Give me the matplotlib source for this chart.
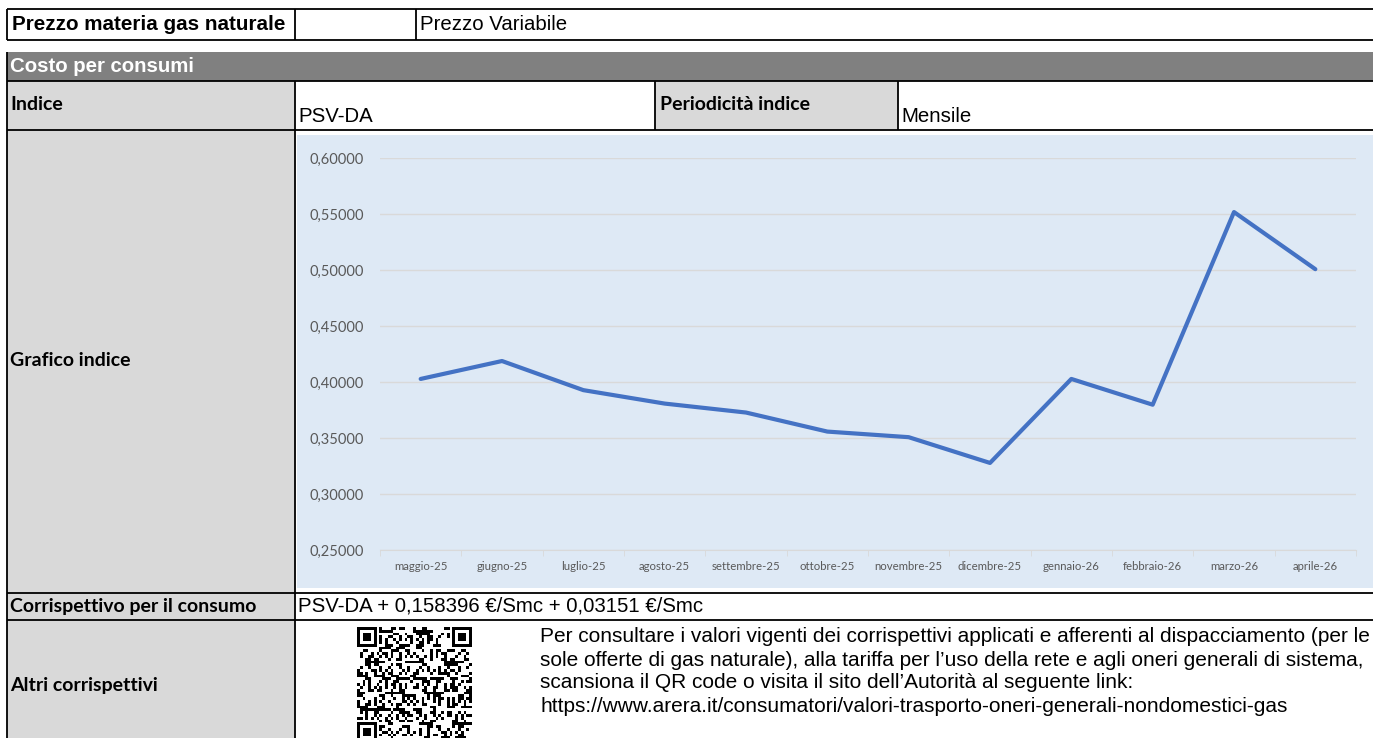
import numpy as np
import matplotlib
matplotlib.use('Agg')
import matplotlib.pyplot as plt
from matplotlib.patches import Rectangle
from matplotlib.ticker import FuncFormatter

plt.rcParams['font.family'] = ['Lato', 'DejaVu Sans']

# index values (PSV-DA), one per month
months = ['maggio-25', 'giugno-25', 'luglio-25', 'agosto-25', 'settembre-25', 'ottobre-25',
          'novembre-25', 'dicembre-25', 'gennaio-26', 'febbraio-26', 'marzo-26', 'aprile-26']
psv_da = [0.403, 0.419, 0.393, 0.381, 0.373, 0.356, 0.351, 0.328, 0.403, 0.380, 0.552, 0.501]
y_ticks = [0.25, 0.30, 0.35, 0.40, 0.45, 0.50, 0.55, 0.60]

info_lines = [
    'Per consultare i valori vigenti dei corrispettivi applicati e afferenti al dispacciamento (per le',
    'sole offerte di gas naturale), alla tariffa per l\u2019uso della rete e agli oneri generali di sistema,',
    'scansiona il QR code o visita il sito dell\u2019Autorit\u00e0 al seguente link:',
    'https://www.arera.it/consumatori/valori-trasporto-oneri-generali-nondomestici-gas',
]

ARIAL = ['Liberation Sans', 'DejaVu Sans']
CALIBRI = ['Lato', 'DejaVu Sans']
GRAY = '#D9D9D9'

W, H = 1373, 738
fig = plt.figure(figsize=(W / 100, H / 100), dpi=100)

# full-figure axes in pixel coordinates for the table around the chart
bg = fig.add_axes([0, 0, 1, 1])
bg.axis('off')


def box(x0, y0, x1, y1, color):
    bg.add_patch(Rectangle((x0, y0), x1 - x0, y1 - y0, facecolor=color, edgecolor='none'))


def hline(y, x0=7, x1=W):
    bg.plot([x0, x1], [y, y], color='black', lw=1.3, solid_capstyle='butt')


def vline(x, y0, y1):
    bg.plot([x, x], [y0, y1], color='black', lw=1.3, solid_capstyle='butt')


def label(x, y, s, family, size, bold=False, color='black'):
    bg.text(x, y, s, family=family, fontsize=size, fontweight='bold' if bold else 'normal',
            color=color, ha='left', va='center')


# row 1
hline(9); hline(39.5)
vline(7, 9, 39.5); vline(295, 9, 39.5); vline(416, 9, 39.5)
label(12, 25, 'Prezzo materia gas naturale', ARIAL, 14.9, bold=True)
label(420, 25, 'Prezzo Variabile', ARIAL, 14.7)

# header band
box(7, 52, W, 81, '#808080')
label(10, 67, 'Costo per consumi', ARIAL, 14.7, bold=True, color='white')

# row "Indice"
box(7, 81, 295, 129.5, GRAY)
box(655, 81, 898, 129.5, GRAY)
label(10, 104, 'Indice', CALIBRI, 14, bold=True)
label(298, 116, 'PSV-DA', ARIAL, 14.7)
label(660, 104, 'Periodicit\u00e0 indice', CALIBRI, 14, bold=True)
label(901, 116, 'Mensile', ARIAL, 14.7)

# chart row
box(7, 129.5, 295, 593, GRAY)
box(297, 135, W, 588, '#DEE9F5')
label(10, 361, 'Grafico indice', CALIBRI, 14, bold=True)

# "Corrispettivo" row
box(7, 593, 295, 620, GRAY)
label(10, 606.5, 'Corrispettivo per il consumo', CALIBRI, 14, bold=True)
label(298, 606.5, 'PSV-DA + 0,158396 \u20ac/Smc + 0,03151 \u20ac/Smc', ARIAL, 14.7)

# "Altri corrispettivi" row
box(7, 620, 295, H, GRAY)
label(10, 685, 'Altri corrispettivi', CALIBRI, 14, bold=True)
for k, s in enumerate(info_lines):
    label(540, 637 + 23 * k, s, ARIAL, 15)

# QR-like picture (decorative)
n = 41
i, j = np.mgrid[0:n, 0:n]
qr = (((i * 7 + j * 13 + (i * j) % 11 + (i * i + j) % 7) % 5) < 2).astype(float)
for r, c in [(0, 0), (0, n - 7), (n - 7, 0)]:
    r0, r1 = max(r - 1, 0), min(r + 8, n)
    c0, c1 = max(c - 1, 0), min(c + 8, n)
    qr[r0:r1, c0:c1] = 0
    qr[r:r + 7, c:c + 7] = 1
    qr[r + 1:r + 6, c + 1:c + 6] = 0
    qr[r + 2:r + 5, c + 2:c + 5] = 1
bg.imshow(qr, cmap='gray_r', extent=(357, 472, 627 + 115, 627), interpolation='nearest',
          aspect='auto', zorder=2)

# table lines
for y in [81, 129.5, 593, 620]:
    hline(y)
vline(7, 52, H)
vline(295, 81, H)
vline(655, 81, 129.5)
vline(898, 81, 129.5)

bg.set_xlim(0, W)
bg.set_ylim(H, 0)

# chart
ax = fig.add_axes([380 / W, 1 - 550.3 / H, 976 / W, 392 / H])
ax.set_facecolor('none')
x = np.arange(len(months))
ax.plot(x, psv_da, color='#4472C4', lw=3, solid_joinstyle='round', solid_capstyle='round')
ax.set_xlim(-0.5, len(months) - 0.5)
ax.set_ylim(0.25, 0.60)
ax.set_yticks(y_ticks)
ax.yaxis.set_major_formatter(FuncFormatter(lambda v, p: f'{v:.5f}'.replace('.', ',')))
ax.grid(axis='y', color=GRAY, lw=1)
ax.set_axisbelow(True)
for s in ['top', 'right', 'left']:
    ax.spines[s].set_visible(False)
ax.spines['bottom'].set_color(GRAY)
ax.set_xticks(x)
ax.set_xticklabels(months)
ax.set_xticks(np.arange(-0.5, len(months), 1), minor=True)
ax.tick_params(axis='x', which='major', length=0, pad=8, labelsize=8.2, labelcolor='#595959')
ax.tick_params(axis='x', which='minor', length=4, color=GRAY)
ax.tick_params(axis='y', length=0, pad=11.5, labelsize=10.5, labelcolor='#595959')

fig.savefig('out.png', dpi=100)
